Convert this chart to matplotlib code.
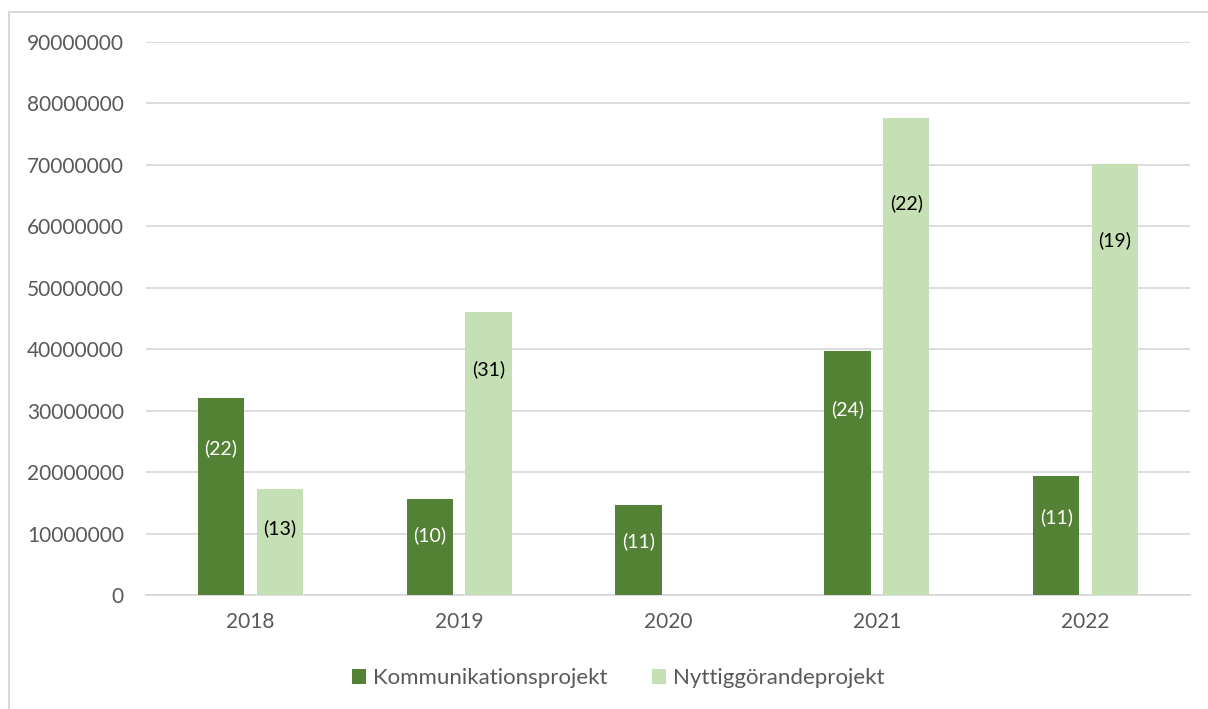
import numpy as np
import matplotlib.pyplot as plt
from matplotlib.patches import Rectangle

# Data
years = ['2018', '2019', '2020', '2021', '2022']
komm_values = [32100000, 15700000, 14700000, 39700000, 19300000]
nytt_values = [17300000, 46100000, 0, 77700000, 70200000]
komm_counts = ['(22)', '(10)', '(11)', '(24)', '(11)']
nytt_counts = ['(13)', '(31)', None, '(22)', '(19)']
# label heights (manually placed text boxes in the original)
komm_label_y = [23900000, 9700000, 8800000, 30300000, 12600000]
nytt_label_y = [10900000, 36700000, None, 63700000, 57800000]

dark_green = '#548235'
light_green = '#C5E0B4'
text_grey = '#595959'

plt.rcParams['font.family'] = ['Lato', 'DejaVu Sans']

fig = plt.figure(figsize=(12.08, 7.09), dpi=100)
ax = fig.add_axes([146 / 1208, (709 - 595) / 709, (1190 - 146) / 1208, (595 - 42) / 709])

# light frame around the chart
fig.patches.append(Rectangle((9 / 1208, -0.1), 1.2, (709 - 12) / 709 + 0.1,
                             transform=fig.transFigure, fill=False,
                             edgecolor='#D9D9D9', linewidth=1.5))

x = np.arange(len(years))
w = 0.222
off = 0.141
b1 = ax.bar(x - off, komm_values, w, color=dark_green, label='Kommunikationsprojekt', zorder=3)
b2 = ax.bar(x + off, nytt_values, w, color=light_green, label='Nyttiggörandeprojekt', zorder=3)

for i in range(len(years)):
    ax.text(x[i] - off, komm_label_y[i], komm_counts[i], ha='center', va='center',
            color='white', fontsize=14, zorder=4)
    if nytt_counts[i] is not None:
        ax.text(x[i] + off, nytt_label_y[i], nytt_counts[i], ha='center', va='center',
                color='black', fontsize=14, zorder=4)

ax.set_xlim(-0.5, len(years) - 0.5)
ax.set_ylim(0, 90000000)
ax.set_yticks(np.arange(0, 90000001, 10000000))
ax.set_yticklabels([str(v) for v in range(0, 90000001, 10000000)])
ax.set_xticks(x)
ax.set_xticklabels(years)
ax.tick_params(axis='both', length=0, labelsize=15, labelcolor=text_grey)
ax.tick_params(axis='y', pad=16)
ax.tick_params(axis='x', pad=12)
ax.grid(axis='y', color='#D9D9D9', linewidth=1.3, zorder=0)
for s in ['top', 'right', 'left']:
    ax.spines[s].set_visible(False)
ax.spines['bottom'].set_color('#D9D9D9')
ax.spines['bottom'].set_linewidth(1.3)

fig.legend(handles=[b1, b2], loc='center', bbox_to_anchor=(618 / 1208, (709 - 678) / 709),
           ncol=2, frameon=False, fontsize=16, labelcolor=text_grey,
           handlelength=0.65, handleheight=0.65, handletextpad=0.3, columnspacing=2.0)

fig.savefig('out.png', dpi=100)
